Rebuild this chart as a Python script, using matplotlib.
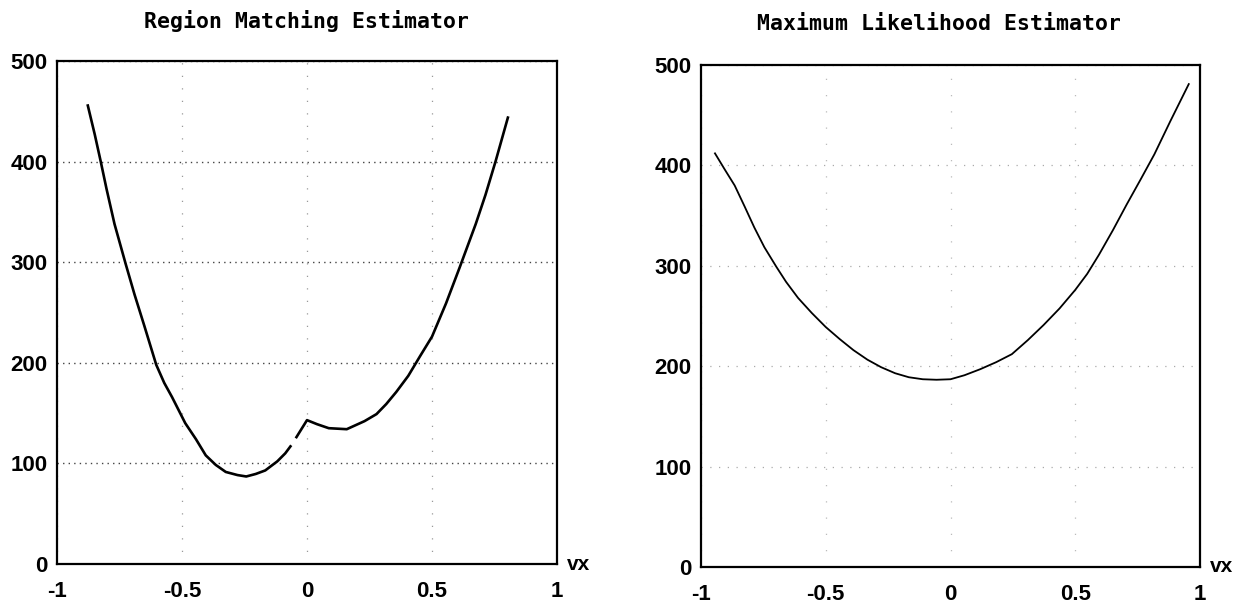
import matplotlib
matplotlib.use("Agg")
import matplotlib.pyplot as plt
from matplotlib.transforms import offset_copy

# ---- data ----
x_ticks = [-1, -0.5, 0, 0.5, 1]
x_tick_labels = ["-1", "-0.5", "0", "0.5", "1"]
y_ticks = [0, 100, 200, 300, 400, 500]
y_tick_labels = ["0", "100", "200", "300", "400", "500"]

titles = ["Region Matching Estimator", "Maximum Likelihood Estimator"]
x_label = "vx"

# Region matching estimator (curve has a small gap just left of 0)
rm_vx_a = [-0.878, -0.849, -0.825, -0.802, -0.770, -0.725, -0.690, -0.651,
           -0.603, -0.571, -0.540, -0.487, -0.444, -0.405, -0.365, -0.325,
           -0.278, -0.243, -0.205, -0.167, -0.119, -0.087, -0.063]
rm_val_a = [457, 427, 400, 373, 338, 298, 268, 237,
            198, 180, 166, 140, 124, 108, 98.5, 91.5,
            88.4, 87, 89.5, 93, 102, 110, 118]
rm_vx_b = [-0.045, 0.0, 0.04, 0.087, 0.159, 0.23, 0.278, 0.317, 0.357,
           0.405, 0.452, 0.5, 0.556, 0.611, 0.675, 0.714, 0.754, 0.805]
rm_val_b = [125, 143, 139, 135, 134, 142, 149, 159, 171,
            187, 206.5, 226, 259, 295, 338, 367, 400, 445]

# Maximum likelihood estimator
ml_vx = [-0.944, -0.905, -0.865, -0.825, -0.786, -0.746, -0.698, -0.659,
         -0.611, -0.556, -0.500, -0.444, -0.389, -0.333, -0.278, -0.222,
         -0.167, -0.111, -0.056, 0.0, 0.056, 0.119, 0.183, 0.246, 0.310,
         0.373, 0.437, 0.500, 0.548, 0.595, 0.651, 0.706, 0.762, 0.817,
         0.881, 0.955]
ml_val = [412, 396, 380, 359, 338, 318.5, 299, 284,
          268, 253, 239, 227, 216, 206.5, 199, 193,
          189, 187, 186.5, 187, 191, 197, 204, 212, 226,
          241, 257.5, 276, 292, 311, 335.5, 361, 386, 411,
          444, 481]

# ---- figure ----
W, H = 1246, 605
fig = plt.figure(figsize=(W / 100, H / 100), dpi=100)

def px_axes(x0, x1, ytop, ybot):
    return [x0 / W, 1 - ybot / H, (x1 - x0) / W, (ybot - ytop) / H]

ax1 = fig.add_axes(px_axes(57, 557, 61, 564))
ax2 = fig.add_axes(px_axes(701, 1200, 65, 567))

tick_font = dict(family="Liberation Sans", weight="bold", size=16)
title_font = dict(family="DejaVu Sans Mono", weight="bold", size=15.5)

for ax, title, pad, tx in [(ax1, titles[0], 24, 0.5), (ax2, titles[1], 25, 0.476)]:
    ax.set_xlim(-1, 1)
    ax.set_ylim(0, 500)
    ax.set_xticks(x_ticks)
    ax.set_xticklabels(x_tick_labels, fontdict=tick_font)
    ax.set_yticks(y_ticks)
    ax.set_yticklabels(y_tick_labels, fontdict=tick_font)
    ax.tick_params(axis="both", length=0)
    ax.tick_params(axis="x", pad=12)
    ax.tick_params(axis="y", pad=7)
    for s in ax.spines.values():
        s.set_linewidth(1.6)
        s.set_color("black")
    t = ax.set_title(title, pad=pad, **title_font)
    t.set_x(tx)
    tr = offset_copy(ax.transAxes, fig=fig, x=7, y=0, units="points")
    ax.text(1.0, 0.0, x_label, transform=tr, ha="left",
            va="center", fontsize=15, fontweight="bold",
            family="Liberation Sans")
    ax.set_axisbelow(True)

# grids
ax1.grid(axis="y", color="#444444", linestyle=(0, (1, 3)), linewidth=1.0)
ax1.grid(axis="x", color="#999999", linestyle=(0, (1, 9)), linewidth=0.9)
ax2.grid(axis="y", color="#aaaaaa", linestyle=(0, (1, 6)), linewidth=0.9)
ax2.grid(axis="x", color="#bbbbbb", linestyle=(0, (1, 12)), linewidth=0.9)

# curves
ax1.plot(rm_vx_a, rm_val_a, color="black", linewidth=1.9,
         solid_capstyle="butt", solid_joinstyle="round")
ax1.plot(rm_vx_b, rm_val_b, color="black", linewidth=1.9,
         solid_capstyle="butt", solid_joinstyle="round")
ax2.plot(ml_vx, ml_val, color="black", linewidth=1.3,
         solid_joinstyle="round")

fig.savefig("out.png", dpi=100)
